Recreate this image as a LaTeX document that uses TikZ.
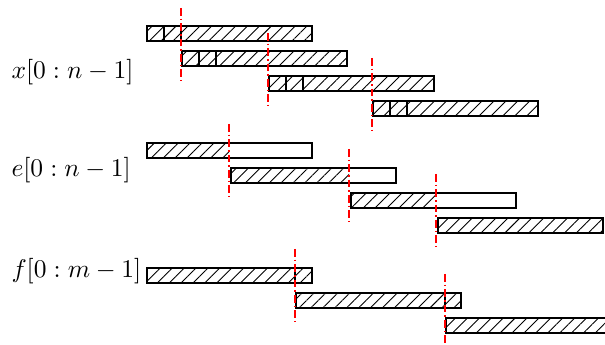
\documentclass[tikz,border=0pt]{standalone}
\usetikzlibrary{patterns.meta}
\begin{document}
\begin{tikzpicture}[x=0.392pt,y=-0.392pt,
  bar/.style={draw=black, line width=0.75pt},
  hatch/.style={pattern={Lines[angle=45,distance=3.3pt,line width=0.35pt]}},
  divline/.style={draw=black, line width=0.6pt},
  cutline/.style={draw=red, line width=0.6pt, dash pattern=on 3pt off 1.2pt on 0.6pt off 1.2pt},
  lbl/.style={anchor=west, inner sep=0pt}]
\useasboundingbox (0,0) rectangle (605,345);
\clip (0,0) rectangle (605,345);
% labels
\node[lbl] (lx) at (11,72) {$x[0:n-1]$};
\node[lbl] (le) at (11,170) {$e[0:n-1]$};
\node[lbl] (lf) at (11,271) {$f[0:m-1]$};
% x rows
\foreach \s/\y in {147/26, 182/51, 269/76, 373/101} {
  \fill[hatch] (\s,\y) rectangle ++(165,15);
  \draw[divline] (\s+17,\y) -- ++(0,15) (\s+34,\y) -- ++(0,15);
  \draw[bar] (\s,\y) rectangle ++(165,15);
}
% e rows
\foreach \s/\y/\h in {147/143/82, 231/168/118, 351/193/85, 438/218/165} {
  \fill[hatch] (\s,\y) rectangle ++(\h,15);
  \draw[bar] (\s,\y) rectangle ++(165,15);
}
% f rows
\foreach \s/\y/\d in {147/268/148, 296/293/149, 446/318/0} {
  \fill[hatch] (\s,\y) rectangle ++(165,15);
  \ifnum\d>0 \draw[divline] (\s+\d,\y) -- ++(0,15);\fi
  \draw[bar] (\s,\y) rectangle ++(165,15);
}
% cut lines
\foreach \c/\a in {181/8, 268/33, 372/58, 229/124, 349/149, 436/174, 295/249, 445/274}
  \draw[cutline] (\c,\a) -- ++(0,75);
\end{tikzpicture}
\end{document}
